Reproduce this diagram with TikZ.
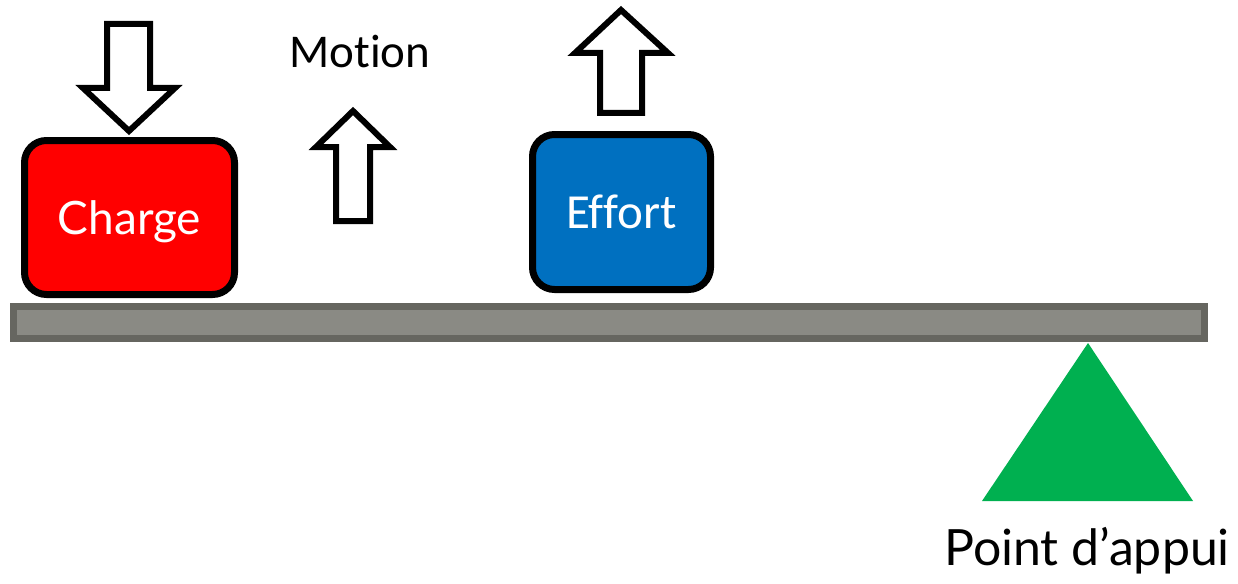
\documentclass[tikz,border=0pt]{standalone}
\usepackage{fontspec}
\setmainfont[Ligatures=NoCommon]{Carlito}
\newfontfamily\signfont{Lato}
\usetikzlibrary{positioning}

\definecolor{chargered}{RGB}{255,0,0}
\definecolor{effortblue}{RGB}{0,112,192}
\definecolor{pivotgreen}{RGB}{0,176,80}
\definecolor{beamedge}{RGB}{102,102,96}
\definecolor{beamfill}{RGB}{138,138,132}

\tikzset{
  weight/.style = {draw=black, line width=7pt, rounded corners=22pt,
                   text=white, inner sep=0pt, font=\fontsize{49}{54}\selectfont},
  bigarrow/.style = {draw=black, fill=white, line width=6pt, line join=miter},
  caption/.style = {inner sep=0pt, font=\fontsize{47}{52}\selectfont}
}

\begin{document}
\begin{tikzpicture}[x=1pt, y=-1pt]
\useasboundingbox (0,0) rectangle (1238,583);

% beam
\draw [draw=beamedge, fill=beamfill, line width=7pt] (13.5,306.5) rectangle (1204.5,338);

% loads
\node (charge) [weight, fill=chargered, minimum width=210pt, minimum height=154pt] at (129.5,217.5) {};
\node (chargetext) [caption, text=white, font=\signfont\fontsize{46}{52}\selectfont,
  yshift=-4pt] at (charge.center) {Charge};
\node (effort) [weight, fill=effortblue, minimum width=178pt, minimum height=155pt] at (621.5,212) {Effort};

% fulcrum
\fill [pivotgreen] (1088,343) coordinate (pivot) -- (1193,501) -- (982,501) -- cycle;
\node (appui) [caption, font=\signfont\fontsize{50}{56}\selectfont] at (1087,551) {Point d’appui};

% arrows
\draw [bigarrow] (107,24) -- (150,24) -- (150,88) -- (175,88) -- (129,131)
  -- (83,88) -- (107,88) -- cycle;
\draw [bigarrow] (336,221) -- (370,221) -- (370,147) -- (390,147) -- (353,111)
  -- (316,147) -- (336,147) -- cycle;
\draw [bigarrow] (600,113) -- (642,113) -- (642,53) -- (668,53) -- (621,10)
  -- (575,53) -- (600,53) -- cycle;

\node (motion) [caption] at (360,52) {Motion};

\end{tikzpicture}
\end{document}
